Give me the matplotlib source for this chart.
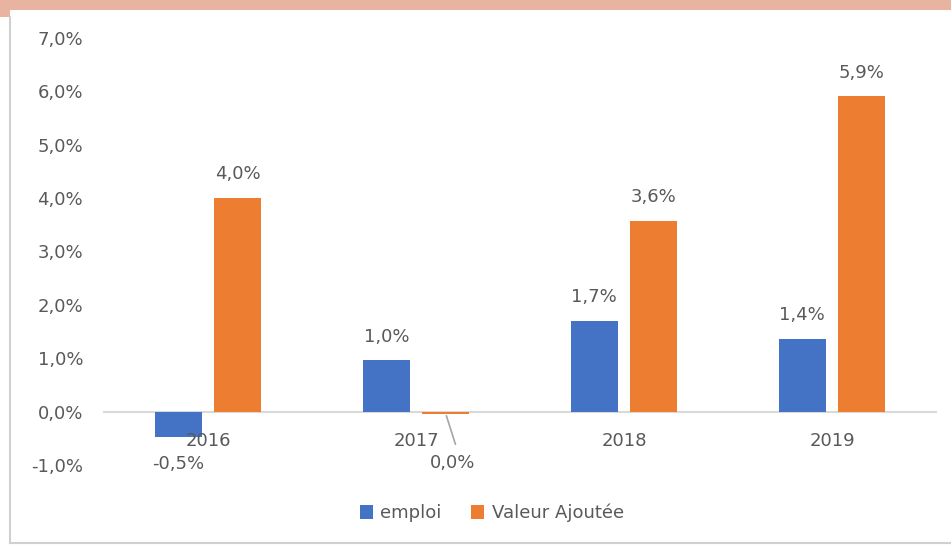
import matplotlib
matplotlib.use("Agg")
import matplotlib.pyplot as plt
from matplotlib.patches import Rectangle
from matplotlib.lines import Line2D
import numpy as np

# data (growth, %)
years = ["2016", "2017", "2018", "2019"]
emploi = [-0.47, 0.96, 1.70, 1.36]
valeur_ajoutee = [4.01, -0.04, 3.57, 5.91]
yticks = [-1, 0, 1, 2, 3, 4, 5, 6, 7]

BLUE = "#4472C4"
ORANGE = "#ED7D31"
GREY_TXT = "#595959"


def pct(v):
    s = "{:.1f}%".format(v).replace(".", ",")
    if s == "-0,0%":
        s = "0,0%"
    return s


fig = plt.figure(figsize=(9.51, 5.45), dpi=100)
fig.patch.set_facecolor("white")

# salmon band on top + grey frame on the left/bottom
fig.add_artist(Rectangle((0, 1 - 10 / 545), 1, 10 / 545, transform=fig.transFigure,
                         facecolor="#E9B3A1", edgecolor="none"))
fig.add_artist(Rectangle((0, 1 - 17 / 545), 10 / 951, 17 / 545, transform=fig.transFigure,
                         facecolor="#E9B3A1", edgecolor="none"))
fig.add_artist(Line2D([10 / 951, 10 / 951], [0.003, 1 - 17 / 545], transform=fig.transFigure,
                      color="#D0D0D0", lw=1.5))
fig.add_artist(Line2D([10 / 951, 1], [0.003, 0.003], transform=fig.transFigure,
                      color="#D0D0D0", lw=1.5))

ax = fig.add_axes([104 / 951, 1 - 465 / 545, 832 / 951, 427 / 545])

x = np.arange(len(years))
w = 0.224
off = 0.143
b1 = ax.bar(x - off, emploi, w, color=BLUE, label="emploi")
b2 = ax.bar(x + off, valeur_ajoutee, w, color=ORANGE, label="Valeur Ajoutée")

ax.set_xlim(-0.5, 3.5)
ax.set_ylim(-1, 7)
ax.set_yticks(yticks)
ax.set_yticklabels([pct(t) for t in yticks])

for s in ["top", "right", "left"]:
    ax.spines[s].set_visible(False)
ax.spines["bottom"].set_position(("data", 0))
ax.spines["bottom"].set_color("#D9D9D9")
ax.spines["bottom"].set_linewidth(1.5)
ax.spines["bottom"].set_zorder(0)

ax.set_xticks(x)
ax.set_xticklabels(years)
ax.tick_params(axis="x", length=0, pad=15, labelsize=13, labelcolor=GREY_TXT)
ax.tick_params(axis="y", length=0, pad=15, labelsize=13, labelcolor=GREY_TXT)

# value labels
for bars, vals in [(b1, emploi), (b2, valeur_ajoutee)]:
    for rect, v in zip(bars, vals):
        cx = rect.get_x() + rect.get_width() / 2
        if v >= 0:
            ax.annotate(pct(v), (cx, v), xytext=(0, 17), textcoords="offset points",
                        ha="center", va="center", fontsize=13, color=GREY_TXT)
        elif v > -0.2:
            # tiny bar: label pushed down with a leader line
            ax.annotate(pct(v), (cx, 0), xytext=(5, -37), textcoords="offset points",
                        ha="center", va="center", fontsize=13, color=GREY_TXT)
            ax.annotate("", xy=(cx, v), xytext=(7, -22), textcoords="offset points",
                        arrowprops=dict(arrowstyle="-", color="#A6A6A6", lw=1.2,
                                        shrinkA=0, shrinkB=1.5))
        else:
            ax.annotate(pct(v), (cx, v), xytext=(0, -20), textcoords="offset points",
                        ha="center", va="center", fontsize=13, color=GREY_TXT)

fig.legend(handles=[b1, b2], labels=["emploi", "Valeur Ajoutée"], loc="center",
           bbox_to_anchor=(0.517, 1 - 513 / 545), ncol=2, frameon=False,
           fontsize=13, labelcolor=GREY_TXT, handlelength=0.75, handleheight=0.75,
           handletextpad=0.4, columnspacing=1.6)

fig.savefig("out.png", dpi=100, facecolor=fig.get_facecolor())
